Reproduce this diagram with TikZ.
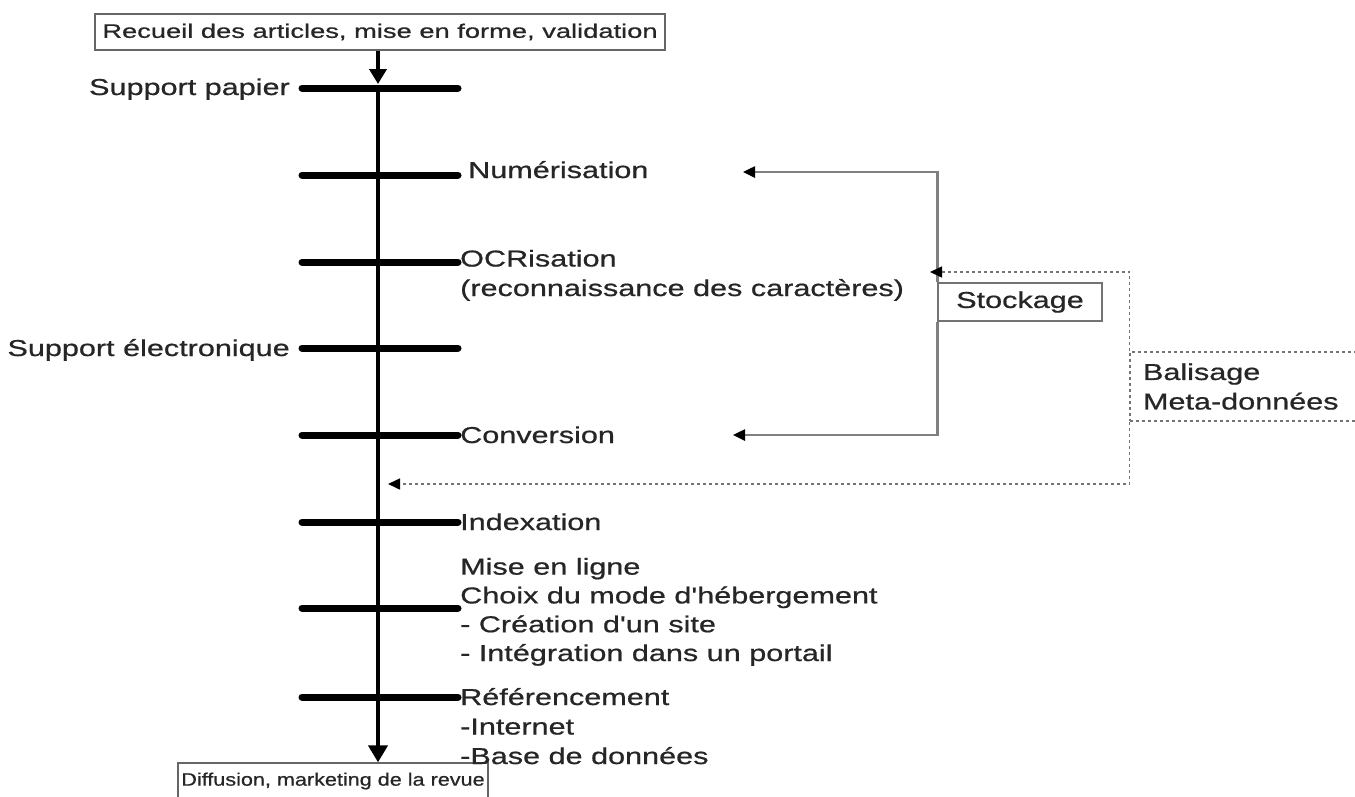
\documentclass[tikz,border=0pt]{standalone}
\usepackage{fontspec}
\setmainfont{Liberation Sans}
\newfontfamily\mainf[FakeStretch=1.33,FakeBold=0.7]{Liberation Sans}
\newfontfamily\topf[FakeStretch=1.4,FakeBold=0.7]{Liberation Sans}
\newfontfamily\botf[FakeStretch=1.2,FakeBold=0.7]{Liberation Sans}
\usetikzlibrary{arrows.meta}
\begin{document}
\begin{tikzpicture}[x=1pt,y=-1pt,
  lbl/.style={font=\mainf\fontsize{23}{29.5}\selectfont, inner sep=0pt, align=left, text=black!85},
  hbar/.style={line width=7pt, line cap=round},
  vline/.style={line width=4pt},
  grayl/.style={draw=black!50, line width=2.5pt},
  dotl/.style={draw=black!55, line width=1.5pt, dash pattern=on 3pt off 3pt},
  tipa/.style={-{Triangle[length=12pt,width=11pt,black]}},
  boxa/.style={draw=black!60, line width=1.3pt, inner sep=0pt, text=black!85}
]
\useasboundingbox (0,0) rectangle (1355,796);

% boxes
\node[boxa, minimum width=570pt, minimum height=36pt, font=\topf\fontsize{19.5}{23}\selectfont] (top) at (380,32) {Recueil des articles, mise en forme, validation};
\node[boxa, minimum width=310pt, minimum height=36pt, font=\botf\fontsize{18}{22}\selectfont] (bot) at (333,781) {Diffusion, marketing de la revue};

% bar positions
\coordinate (b1) at (378,88);
\coordinate (b2) at (378,175);
\coordinate (b3) at (378,262);
\coordinate (b4) at (378,348);
\coordinate (b5) at (378,435);
\coordinate (b6) at (378,522);
\coordinate (b7) at (378,608);
\coordinate (b8) at (378,697);

% main line
\draw[vline, -{Triangle[length=15pt,width=17pt]}] (top.south -| b1) -- ([yshift=4pt]b1);
\draw[vline, -{Triangle[length=17pt,width=19pt]}] (b1) -- (b1 |- bot.north);

\foreach \b in {b1,b2,b3,b4,b5,b6,b7,b8}
  \draw[hbar] ([xshift=-76pt]\b) -- ([xshift=80pt]\b);

% labels (multi-line nodes anchored at the baseline of their last line)
\node[lbl, anchor=base east] (sp) at (290,95) {Support papier};
\node[lbl, anchor=base west] (num) at (468,178) {Numérisation};
\node[lbl, anchor=base west] (ocr) at (460,296) {OCRisation\\(reconnaissance des caractères)};
\node[lbl, anchor=base east] (se) at (290,356) {Support électronique};
\node[lbl, anchor=base west] (conv) at (460,443) {Conversion};
\node[lbl, anchor=base west] (idx) at (460,530) {Indexation};
\node[lbl, anchor=base west, font=\mainf\fontsize{23}{28.8}\selectfont] (mel) at (460,661) {Mise en ligne\\Choix du mode d'hébergement\\- Création d'un site\\- Intégration dans un portail};
\node[lbl, anchor=base west] (ref) at (460,764) {Référencement\\-Internet\\-Base de données};

% stockage
\node[boxa, draw=black!55, line width=1.5pt, minimum width=164pt, minimum height=38pt, font=\mainf\fontsize{23}{29.5}\selectfont] (stk) at (1020,302) {Stockage};
\coordinate (numtip) at (743,172);
\coordinate (convtip) at (733,435);
\draw[grayl, tipa] (stk.north west) |- (numtip);
\draw[grayl, tipa] (stk.south west) |- (convtip);

% balisage
\node[dotl, draw, text=black!85, minimum width=235pt, minimum height=69pt, text width=209pt, inner xsep=13pt, inner ysep=0pt, align=left, font=\mainf\fontsize{23}{29.5}\selectfont] (bal) at (1247.5,386.5) {Balisage\\Meta-données};
\coordinate (ocrtip) at (930,272);
\coordinate (idxtip) at (388,484);
\draw[dotl, tipa] (bal.north west) |- (ocrtip);
\draw[dotl, tipa] (bal.south west) |- (idxtip);
\end{tikzpicture}
\end{document}
